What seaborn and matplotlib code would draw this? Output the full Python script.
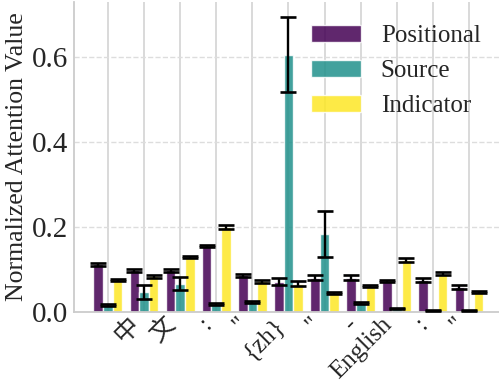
import numpy as np
import pandas as pd
import matplotlib
matplotlib.use("Agg")
import matplotlib.pyplot as plt
import seaborn as sns

tokens = ["", "中", "文", ":", "\"", "{zh}", "\"", "-", "English", ":", "\""]
series = ["Positional", "Source", "Indicator"]
positional = [0.112, 0.098, 0.098, 0.155, 0.086, 0.071, 0.081, 0.081, 0.073, 0.076, 0.059]
positional_err = [0.003, 0.003, 0.003, 0.003, 0.004, 0.008, 0.005, 0.005, 0.003, 0.005, 0.005]
source = [0.016, 0.047, 0.067, 0.018, 0.023, 0.605, 0.184, 0.021, 0.008, 0.004, 0.004]
source_err = [0.002, 0.016, 0.016, 0.002, 0.003, 0.088, 0.054, 0.003, 0.001, 0.001, 0.001]
indicator = [0.075, 0.084, 0.129, 0.200, 0.072, 0.067, 0.045, 0.061, 0.122, 0.090, 0.047]
indicator_err = [0.002, 0.003, 0.003, 0.005, 0.003, 0.007, 0.003, 0.003, 0.004, 0.004, 0.003]
colors = ["#440154", "#21918c", "#fde725"]

sns.set_style("whitegrid")
plt.rcParams["font.family"] = ["Liberation Serif", "Noto Sans CJK SC"]

rows = []
vals = {"Positional": positional, "Source": source, "Indicator": indicator}
for s in series:
    for i, v in enumerate(vals[s]):
        rows.append({"pos": str(i), "type": s, "value": v})
df = pd.DataFrame(rows)
order = [str(i) for i in range(len(tokens))]

fig = plt.figure(figsize=(4.99, 3.86), dpi=100)
ax = fig.add_axes([74 / 499, 1 - 312 / 386, 1 - 74 / 499, 310 / 386])
sns.barplot(data=df, x="pos", y="value", hue="type", order=order, hue_order=series,
            palette=colors, alpha=0.85, saturation=1, errorbar=None, ax=ax, width=0.8)

errs = [positional_err, source_err, indicator_err]
for cont, e in zip(ax.containers, errs):
    xs = [b.get_x() + b.get_width() / 2 for b in cont]
    hs = [b.get_height() for b in cont]
    ax.errorbar(xs, hs, yerr=e, fmt="none", ecolor="black", elinewidth=1.7,
                capsize=5.5, capthick=1.9, zorder=5)

ax.set_xlim(-0.94, 10.83)
ax.set_ylim(0, 0.729)
ax.set_yticks([0.0, 0.2, 0.4, 0.6])
ax.set_yticklabels(["0.0", "0.2", "0.4", "0.6"], fontsize=21)
ax.set_xticks(range(len(tokens)))
ax.set_xticklabels(tokens, rotation=45, ha="right", fontsize=18)
ax.set_xlabel("")
ax.set_ylabel("Normalized Attention Value", fontsize=18.5, labelpad=3)
ax.tick_params(axis="y", length=0, pad=4, colors="#262626")
ax.tick_params(axis="x", length=0, pad=1, colors="#262626")

ax.grid(axis="x", color="#d0d0d0", linewidth=1.1, linestyle="-")
ax.grid(axis="y", color="#dddddd", linewidth=1.0, linestyle="--")
ax.set_axisbelow(True)
for side in ["top", "right"]:
    ax.spines[side].set_visible(False)
for side in ["left", "bottom"]:
    ax.spines[side].set_color("#cccccc")
    ax.spines[side].set_linewidth(1.3)

ax.legend(loc="upper right", bbox_to_anchor=(1.01, 1.0), frameon=False, fontsize=18,
          title=None)

fig.savefig("out.png", dpi=100)
